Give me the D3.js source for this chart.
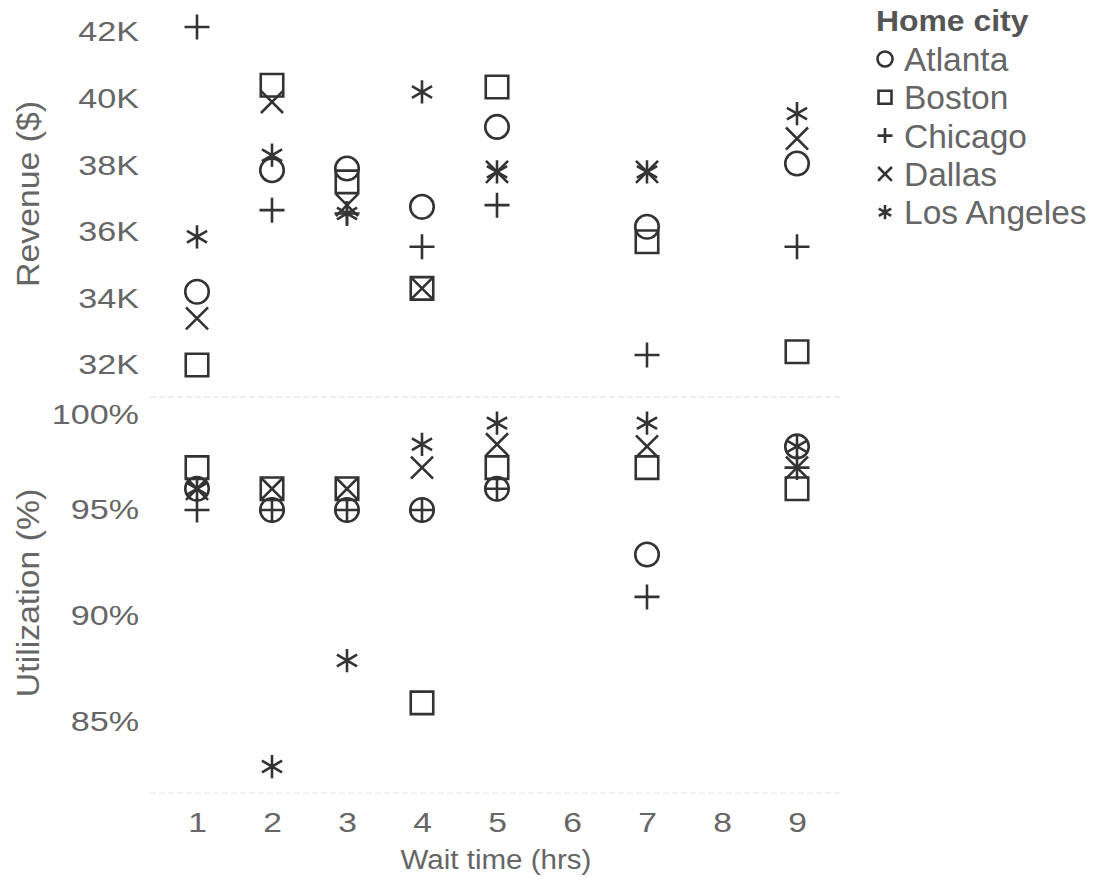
<!DOCTYPE html>
<html>
<head>
<meta charset="utf-8">
<script src="https://cdn.jsdelivr.net/npm/d3@7"></script>
<style>
  html, body { margin: 0; padding: 0; background: #fff; }
  svg { display: block; font-family: "Liberation Sans", Arial, sans-serif; }
</style>
</head>
<body>
<svg id="chart" width="1099" height="879"></svg>
<script>
// ---- data ----
const cities = ["Atlanta", "Boston", "Chicago", "Dallas", "Los Angeles"];
const waitTimes = [1, 2, 3, 4, 5, 7, 9];
const xTicks = [1, 2, 3, 4, 5, 6, 7, 8, 9];
const revenueTicks = [32, 34, 36, 38, 40, 42];
const utilTicks = [85, 90, 95, 100];

// revenue in $K, by city, aligned with waitTimes
const revAtlanta    = [34.2, 37.85, 37.9, 36.75, 39.15, 36.15, 38.05];
const revBoston     = [32.0, 40.4, 37.5, 34.3, 40.35, 35.7, 32.4];
const revChicago    = [42.15, 36.65, 36.55, 35.55, 36.8, 32.3, 35.55];
const revDallas     = [33.4, 39.9, 36.8, 34.3, 37.8, 37.8, 38.8];
const revLosAngeles = [35.85, 38.3, 36.55, 40.2, 37.8, 37.8, 39.55];

// utilization in %, by city, aligned with waitTimes
const utilAtlanta    = [96.0, 95.0, 95.0, 95.0, 96.0, 92.9, 98.0];
const utilBoston     = [97.0, 96.0, 96.0, 85.9, 97.0, 97.0, 96.0];
const utilChicago    = [95.0, 95.0, 95.0, 95.0, 96.0, 90.9, 97.0];
const utilDallas     = [96.0, 96.0, 96.0, 97.0, 98.1, 98.0, 97.0];
const utilLosAngeles = [96.0, 82.9, 87.9, 98.1, 99.1, 99.1, 98.0];

const revenueByCity = [revAtlanta, revBoston, revChicago, revDallas, revLosAngeles];
const utilByCity = [utilAtlanta, utilBoston, utilChicago, utilDallas, utilLosAngeles];

// ---- layout ----
const svg = d3.select("#chart");
const ink = "#333";
const labelColor = "#666";

const x = d3.scaleLinear().domain([1, 9]).range([197, 797]);
const yRev = d3.scaleLinear().domain([32, 42]).range([365, 32]);
const yUtil = d3.scaleLinear().domain([85, 95]).range([722, 510]);

// marker path generators (centered at 0,0)
function markerPath(kind, s) {
  const h = s / 2;
  switch (kind) {
    case "Atlanta": // circle
      return `M${h},0A${h},${h} 0 1,1 ${-h},0A${h},${h} 0 1,1 ${h},0Z`;
    case "Boston": // square
      return `M${-h},${-h}H${h}V${h}H${-h}Z`;
    case "Chicago": // plus
      return `M${-h},0H${h}M0,${-h}V${h}`;
    case "Dallas": { // x
      const d = h * 0.92;
      return `M${-d},${-d}L${d},${d}M${-d},${d}L${d},${-d}`;
    }
    default: { // asterisk
      const a = h * 0.95, c = a * Math.cos(Math.PI / 6), sn = a * Math.sin(Math.PI / 6);
      return `M0,${-a}V${a}M${-c},${-sn}L${c},${sn}M${-c},${sn}L${c},${-sn}`;
    }
  }
}
const markerSize = { "Atlanta": 23.5, "Boston": 22.5, "Chicago": 25, "Dallas": 24, "Los Angeles": 24.5 };

// separators
svg.append("line").attr("x1", 150).attr("x2", 843).attr("y1", 397).attr("y2", 397)
  .attr("stroke", "#eeeeee").attr("stroke-width", 2).attr("stroke-dasharray", "6,3");
svg.append("line").attr("x1", 150).attr("x2", 843).attr("y1", 793).attr("y2", 793)
  .attr("stroke", "#f2f2f2").attr("stroke-width", 2).attr("stroke-dasharray", "6,3");

// axes
const tickFont = 28;
const gRevAxis = svg.append("g").attr("transform", "translate(139,0)")
  .call(d3.axisLeft(yRev).tickValues(revenueTicks).tickFormat(d => d + "K").tickSize(0).tickPadding(0));
const gUtilAxis = svg.append("g").attr("transform", "translate(139,0)")
  .call(d3.axisLeft(yUtil).tickValues(utilTicks).tickFormat(d => d + "%").tickSize(0).tickPadding(0));
const gX = svg.append("g").attr("transform", "translate(0,812)")
  .call(d3.axisBottom(x).tickValues(xTicks).tickFormat(d3.format("d")).tickSize(0).tickPadding(0));

[gRevAxis, gUtilAxis, gX].forEach(g => {
  g.select(".domain").remove();
  g.selectAll("text").attr("font-size", tickFont).attr("fill", labelColor)
    .attr("font-family", "'Liberation Sans', Arial, sans-serif");
});
gRevAxis.selectAll("text").attr("x", 0).attr("transform", "scale(1.22,1)");
gUtilAxis.selectAll("text").attr("x", 0).attr("transform", "scale(1.22,1)");
gX.selectAll("text").attr("transform", "scale(1.2,1)").attr("dy", "0.72em");
// keep the top utilization label inside its panel
gUtilAxis.selectAll(".tick").filter(d => d === 100).select("text").attr("dy", "0.68em");

// axis titles
svg.append("text").attr("transform", "translate(39,194) rotate(-90) scale(1.09,1)")
  .attr("text-anchor", "middle").attr("font-size", 31).attr("fill", labelColor).text("Revenue ($)");
svg.append("text").attr("transform", "translate(39,593) rotate(-90) scale(1.09,1)")
  .attr("text-anchor", "middle").attr("font-size", 31).attr("fill", labelColor).text("Utilization (%)");
svg.append("text").attr("transform", "translate(496,869) scale(1.055,1)")
  .attr("text-anchor", "middle").attr("font-size", 28).attr("fill", labelColor).text("Wait time (hrs)");

// marks
const gMarks = svg.append("g").attr("fill", "none").attr("stroke", ink).attr("stroke-width", 2.6);
cities.forEach((city, ci) => {
  const rev = waitTimes.map((w, i) => ({ w, v: revenueByCity[ci][i] }));
  const ut = waitTimes.map((w, i) => ({ w, v: utilByCity[ci][i] }));
  gMarks.selectAll(null).data(rev).join("path")
    .attr("transform", d => `translate(${x(d.w)},${yRev(d.v)})`)
    .attr("d", markerPath(city, markerSize[city]));
  gMarks.selectAll(null).data(ut).join("path")
    .attr("transform", d => `translate(${x(d.w)},${yUtil(d.v)})`)
    .attr("d", markerPath(city, markerSize[city]));
});

// legend
const legend = svg.append("g").attr("transform", "translate(876,0)");
legend.append("text").attr("transform", "translate(0,31) scale(1.1,1)").attr("font-size", 29)
  .attr("font-weight", "bold").attr("fill", "#555").text("Home city");
const rows = legend.selectAll("g.row").data(cities).join("g").attr("class", "row")
  .attr("transform", (d, i) => `translate(0,${59 + i * 38.3})`);
rows.append("path").attr("transform", "translate(9,0)")
  .attr("d", d => markerPath(d, d === "Boston" ? 13 : 15))
  .attr("fill", "none").attr("stroke", ink).attr("stroke-width", 2.6);
rows.append("text").attr("x", 28).attr("y", 0).attr("dy", "0.36em").attr("font-size", 33.5)
  .attr("fill", labelColor).text(d => d);
</script>
</body>
</html>
